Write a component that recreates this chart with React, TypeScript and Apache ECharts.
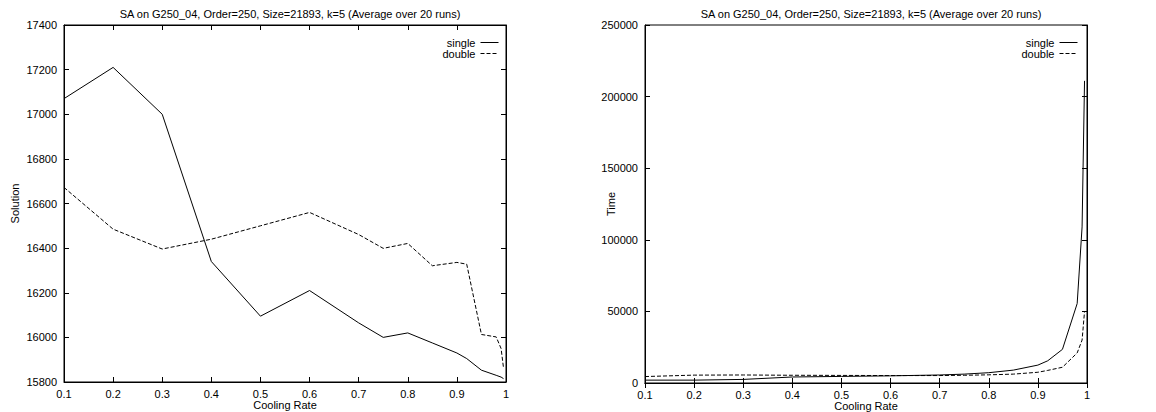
import React, { useEffect, useRef } from "react";
import * as echarts from "echarts";

const coolingRates = [0.1, 0.2, 0.3, 0.4, 0.5, 0.6, 0.7, 0.75, 0.8, 0.85, 0.9, 0.92, 0.95, 0.98, 0.99, 0.995];
const solutionSingle = [17070, 17210, 17000, 16340, 16095, 16210, 16065, 16000, 16020, 15975, 15930, 15905, 15853, 15830, 15822, 15815];
const solutionDouble = [16672, 16485, 16396, 16440, 16500, 16560, 16461, 16399, 16421, 16321, 16336, 16328, 16013, 16002, 15950, 15862];
const timeSingle = [2000, 2000, 2500, 4200, 4600, 5000, 5600, 6200, 7200, 9000, 12500, 15500, 23500, 55500, 109000, 211000];
const timeDouble = [4500, 5500, 5600, 5400, 5300, 5200, 5200, 5400, 5700, 6200, 7500, 8800, 11000, 21000, 30000, 50000];

const titleText = "SA on G250_04, Order=250, Size=21893, k=5 (Average over 20 runs)";
const seriesNames = ["single", "double"];
const xName = "Cooling Rate";
const yNames = ["Solution", "Time"];

const FONT = "Liberation Sans";

export default function App() {
  const ref = useRef<HTMLDivElement>(null);
  useEffect(() => {
    document.body.style.margin = "0";
    const chart = echarts.init(ref.current!, null, { renderer: "svg" });
    const pair = (xs: number[], ys: number[]) => xs.map((x, i) => [x, ys[i]]);
    const txt = { color: "#000", fontFamily: FONT, fontSize: 11 };
    const grids = [
      { left: 64, right: 650, top: 25, bottom: 30, show: true, borderColor: "#000", borderWidth: 1, outerBoundsMode: "none", containLabel: false },
      { left: 645, right: 69, top: 25, bottom: 29, show: true, borderColor: "#000", borderWidth: 1, outerBoundsMode: "none", containLabel: false },
    ];
    const yRanges = [
      { min: 15800, max: 17400, interval: 200 },
      { min: 0, max: 250000, interval: 50000 },
    ];
    const xAxes: any[] = [];
    const yAxes: any[] = [];
    [0, 1].forEach((g) => {
      xAxes.push({
        type: "value", gridIndex: g, min: 0.1, max: 1, interval: 0.1, position: "bottom",
        name: xName, nameLocation: "middle", nameGap: 17, nameMoveOverlap: false,
        nameTextStyle: { ...txt },
        axisLine: { show: true, lineStyle: { color: "#000", width: 1 } },
        axisTick: { show: true, inside: true, length: 5, lineStyle: { color: "#000" } },
        axisLabel: { ...txt, margin: 6, formatter: (v: number) => String(Math.round(v * 10) / 10) },
        splitLine: { show: false },
      });
      xAxes.push({
        type: "value", gridIndex: g, min: 0.1, max: 1, interval: 0.1, position: "top",
        axisLine: { show: true, lineStyle: { color: "#000", width: 1 } },
        axisTick: { show: true, inside: true, length: 5, lineStyle: { color: "#000" } },
        axisLabel: { show: false }, splitLine: { show: false },
      });
      yAxes.push({
        type: "value", gridIndex: g, ...yRanges[g], position: "left",
        name: yNames[g], nameLocation: "middle", nameGap: g === 0 ? 44 : 29, nameMoveOverlap: false,
        nameTextStyle: { ...txt },
        axisLine: { show: true, lineStyle: { color: "#000", width: 1 } },
        axisTick: { show: true, inside: true, length: 5, lineStyle: { color: "#000" } },
        axisLabel: { ...txt, margin: 7, formatter: (v: number) => String(v) },
        splitLine: { show: false },
      });
      yAxes.push({
        type: "value", gridIndex: g, ...yRanges[g], position: "right",
        axisLine: { show: true, lineStyle: { color: "#000", width: 1 } },
        axisTick: { show: true, inside: true, length: 5, lineStyle: { color: "#000" } },
        axisLabel: { show: false }, splitLine: { show: false },
      });
    });
    const mk = (name: string, data: number[][], g: number, dashed: boolean) => ({
      type: "line", name, data, xAxisIndex: g * 2, yAxisIndex: g * 2,
      symbol: "none", showSymbol: false,
      lineStyle: { color: "#000", width: 1, type: dashed ? [4, 2] : "solid" },
      itemStyle: { color: "#000" },
    });
    const legendBase = {
      orient: "vertical", align: "right", itemWidth: 18, itemHeight: 8, itemGap: 0, padding: 0,
      textStyle: { ...txt, lineHeight: 10 }, data: seriesNames, selectedMode: false,
      itemStyle: { opacity: 0 }, lineStyle: { width: 1 },
    };
    chart.setOption({
      animation: false,
      title: [
        { text: titleText, left: 285, top: 3, textAlign: "center", textStyle: { ...txt, fontWeight: "normal" } },
        { text: titleText, left: 866, top: 3, textAlign: "center", textStyle: { ...txt, fontWeight: "normal" } },
      ],
      legend: [
        { ...legendBase, right: 1156 - 499, top: 37 },
        { ...legendBase, right: 1156 - 1078, top: 37 },
      ],
      grid: grids,
      xAxis: xAxes,
      yAxis: yAxes,
      series: [
        mk("single", pair(coolingRates, solutionSingle), 0, false),
        mk("double", pair(coolingRates, solutionDouble), 0, true),
        mk("single", pair(coolingRates, timeSingle), 1, false),
        mk("double", pair(coolingRates, timeDouble), 1, true),
      ],
    });
    return () => chart.dispose();
  }, []);
  return <div ref={ref} style={{ width: 1156, height: 412 }} />;
}
